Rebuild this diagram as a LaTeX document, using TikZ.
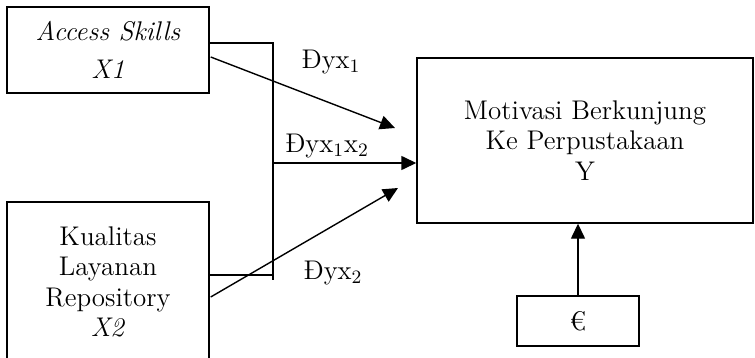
\documentclass[tikz,border=0pt]{standalone}
\usetikzlibrary{positioning, calc, arrows.meta}

\begin{document}
\begin{tikzpicture}[x=0.5pt, y=-0.5pt,
    varbox/.style={draw, line width=0.7pt, align=center, inner sep=0pt,
        font=\fontsize{13.5}{15.3}\selectfont},
    pathlbl/.style={font=\fontsize{13.5}{15.3}\selectfont, inner sep=0pt},
    pathto/.style={line width=0.7pt, -{Triangle[length=7.5pt, width=7pt]}},
    joint/.style={line width=0.7pt}]
    \useasboundingbox (0,0) rectangle (755,358);
    \clip (0,0) rectangle (755,358);

    % variable boxes
    \node[varbox, minimum width=101pt, minimum height=43pt] (x1) at (108,50)
        {\textit{Access Skills}\\[4pt] \textit{X1}};
    \node[varbox, minimum width=101pt, minimum height=80pt] (x2) at (108,282)
        {Kualitas\\ Layanan\\ Repository\\ \textit{X2}};
    \node[varbox, minimum width=168pt, minimum height=82.5pt] (y) at (585,140.5)
        {Motivasi Berkunjung\\ Ke Perpustakaan\\ Y};
    \node[varbox, minimum width=61pt, minimum height=25pt] (eps) at (578,321) {€};

    % joint line of X1 and X2
    \coordinate (jtop) at (273,43);
    \coordinate (jbot) at (273,280);
    \coordinate (jx2) at (273,275);
    \coordinate (jmid) at (273,163);
    \draw[joint] (x1.east |- jtop) -- (jtop) -- (jbot);
    \draw[joint] (x2.east |- jx2) -- (jx2);

    % paths to Y
    \coordinate (end1) at (395,128);
    \coordinate (end2) at (398,188);
    \draw[pathto] ($(x1.east)+(1,7)$) -- (end1);
    \draw[pathto] (jmid) -- (y.west |- jmid);
    \draw[pathto] ($(x2.east)+(1,15)$) -- (end2);
    \draw[pathto] (eps.north) -- (eps.north |- y.south);

    % path labels
    \node[pathlbl] (p1) at (331,62) {Ðyx\textsubscript{1}};
    \node[pathlbl] (p12) at (327,146) {Ðyx\textsubscript{1}x\textsubscript{2}};
    \node[pathlbl] (p2) at (333,273) {Ðyx\textsubscript{2}};
\end{tikzpicture}
\end{document}
